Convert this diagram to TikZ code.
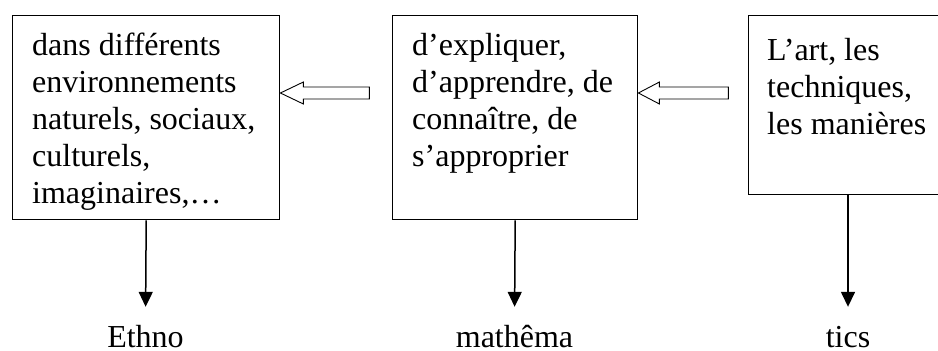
\documentclass[tikz,border=0pt]{standalone}
\usepackage{fontspec}
\setmainfont{Liberation Serif}
\usetikzlibrary{arrows.meta,calc}
\begin{document}
\begin{tikzpicture}[x=1pt,y=-1pt,
  box/.style={draw,line width=1.4pt,minimum width=267pt,minimum height=204pt,anchor=north west,inner sep=0pt},
  txt/.style={anchor=base west,inner sep=0pt,font=\fontsize{32}{37}\selectfont},
  lbl/.style={anchor=base,inner sep=0pt,text height=22pt,text depth=0pt,font=\fontsize{32}{37}\selectfont},
  down/.style={line width=1.5pt,shorten >=18pt,-{Triangle[length=15pt,width=14pt]}},
  blockarrow/.style={draw,line width=0.9pt,fill=white,line join=miter}
]
\clip (0,0) rectangle (938,351);
\fill[white] (0,0) rectangle (938,351);
% boxes
\node[box] (b1) at (12,15) {};
\node[box,minimum width=245pt] (b2) at (392,15) {};
\node[box,minimum width=210pt,minimum height=179pt] (b3) at (748,15) {};
% texts
\node[txt] (t1) at (32,55) {\parbox[t]{240pt}{\raggedright dans différents\\environnements\\naturels, sociaux,\\culturels,\\imaginaires,…}};
\node[txt] (t2) at (412,55) {\parbox[t]{220pt}{\raggedright d’expliquer,\\d’apprendre, de\\connaître, de\\s’approprier}};
\node[txt] (t3) at (767,60) {\parbox[t]{180pt}{\raggedright L’art, les\\techniques,\\les manières}};
% labels
\node[lbl] (e) at (145.5,347) {Ethno};
\node[lbl] (m) at (514.5,347) {mathêma};
\node[lbl] (s) at (848,347) {tics};
% down arrows
\draw[down] (b1.south) -- (e.north);
\draw[down] (b2.south) -- (m.north);
\draw[down] (b3.south -| s.north) -- (s.north);
% block arrows
\coordinate (a1) at ($(b1.north east)+(0,78)$);
\draw[blockarrow] (a1) -- ++(23,-11) -- ++(0,5) -- ++(66,0) -- ++(0,12) -- ++(-66,0) -- ++(0,5) -- cycle;
\coordinate (a2) at ($(b2.north east)+(0,78)$);
\draw[blockarrow] (a2) -- ++(21,-11) -- ++(0,5) -- ++(69,0) -- ++(0,12) -- ++(-69,0) -- ++(0,5) -- cycle;
\end{tikzpicture}
\end{document}
